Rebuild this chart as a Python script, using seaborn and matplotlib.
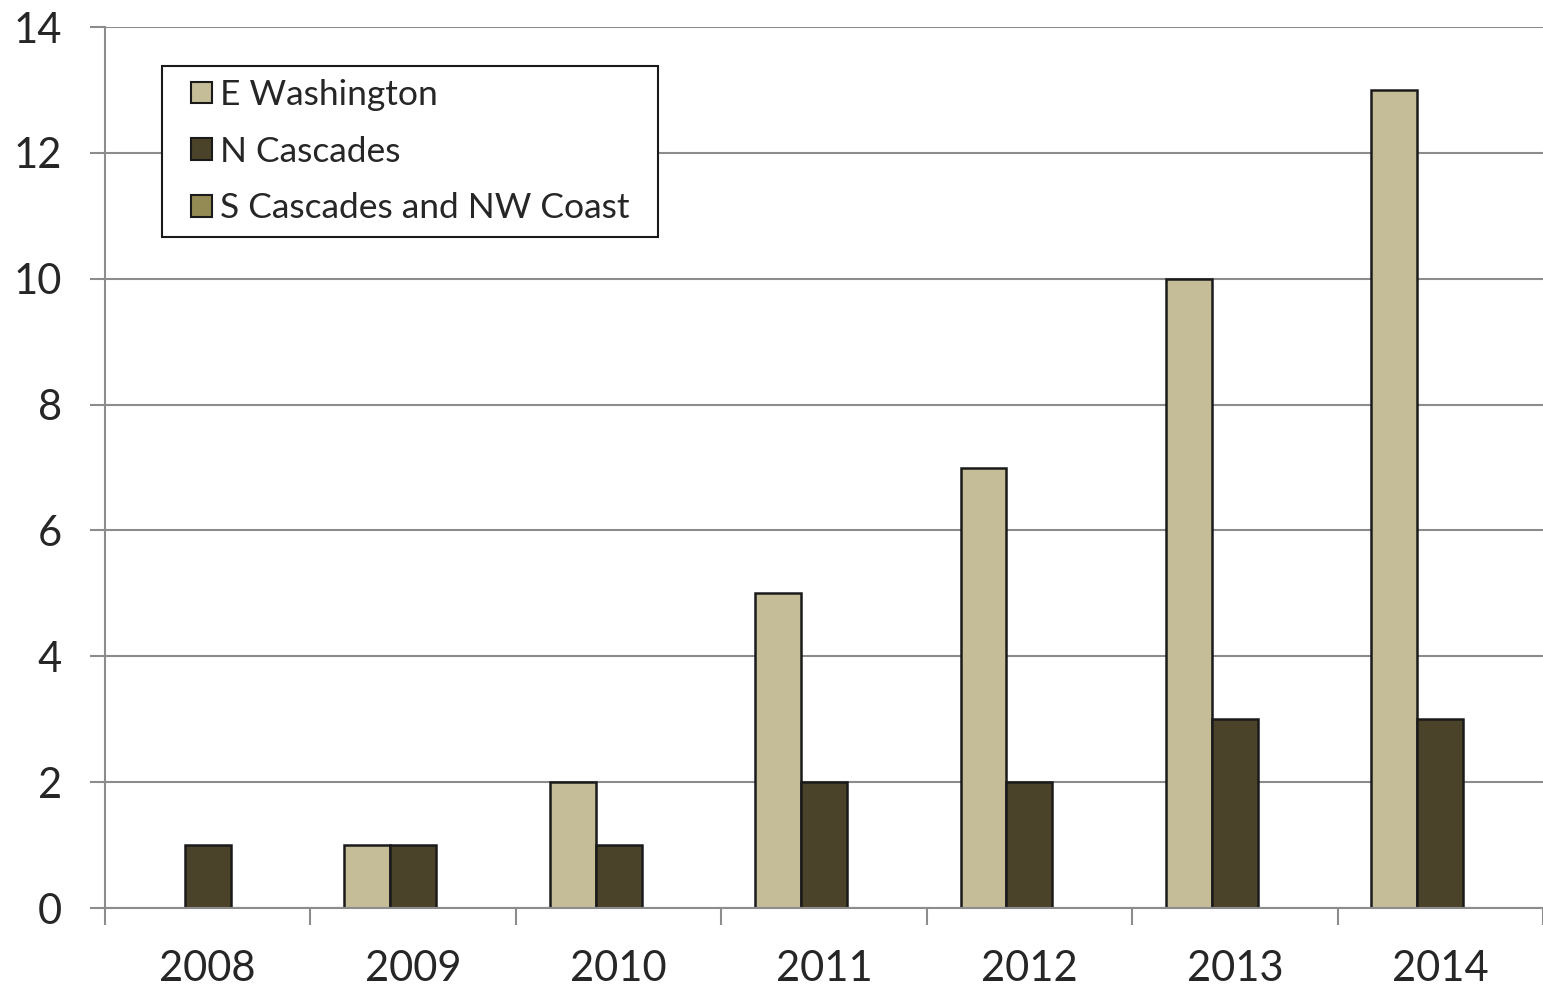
import matplotlib
matplotlib.use("Agg")
import matplotlib.pyplot as plt
from matplotlib.ticker import FixedLocator, MultipleLocator
from matplotlib.legend_handler import HandlerPatch
from matplotlib.patches import Rectangle
import seaborn as sns
import pandas as pd

years = ["2008", "2009", "2010", "2011", "2012", "2013", "2014"]
e_washington = [0, 1, 2, 5, 7, 10, 13]
n_cascades = [1, 1, 1, 2, 2, 3, 3]
s_cascades_nw_coast = [0, 0, 0, 0, 0, 0, 0]
series_names = ["E Washington", "N Cascades", "S Cascades and NW Coast"]
colors = ["#C4BD97", "#4B4329", "#948A54"]

df = pd.DataFrame({
    "year": years * 3,
    "value": e_washington + n_cascades + s_cascades_nw_coast,
    "region": [n for n in series_names for _ in years],
})

sns.set_style("white")
plt.rcParams["font.family"] = ["Lato", "DejaVu Sans"]

fig = plt.figure(figsize=(15.43, 9.9), dpi=100)
ax = fig.add_axes([105 / 1543, 1 - 908 / 990, 1 - 105 / 1543, (908 - 27) / 990])

sns.barplot(data=df, x="year", y="value", hue="region", hue_order=series_names,
            palette=colors, saturation=1, width=0.67, gap=0, edgecolor="#1a1a1a",
            linewidth=1.8, ax=ax, legend=True)

# hide outlines of empty bars so the baseline stays clean
for p in ax.patches:
    if p.get_height() == 0:
        p.set_linewidth(0)

ax.set_xlim(-0.5, 6.5)
ax.set_ylim(0, 14)
ax.yaxis.set_major_locator(MultipleLocator(2))
ax.grid(axis="y", color="#8c8c8c", linewidth=1.5)
ax.set_axisbelow(True)
ax.set_xlabel("")
ax.set_ylabel("")

for s in ["top", "right"]:
    ax.spines[s].set_visible(False)
for s in ["left", "bottom"]:
    ax.spines[s].set_color("#8c8c8c")
    ax.spines[s].set_linewidth(1.5)

ax.tick_params(axis="y", direction="out", length=11, width=1.5, color="#8c8c8c",
               labelsize=30, pad=20, left=True)
ax.tick_params(axis="x", which="major", length=0, labelsize=30, pad=30)
ax.xaxis.set_minor_locator(FixedLocator([i - 0.5 for i in range(len(years) + 1)]))
ax.tick_params(axis="x", which="minor", direction="out", length=12, width=1.5,
               color="#8c8c8c", bottom=True)


def right_square(legend, orig_handle, xdescent, ydescent, width, height, fontsize):
    # small square swatch pushed to the right end of the handle slot
    side = 0.6 * fontsize
    return Rectangle((-xdescent + width - side, -ydescent + (height - side) / 2),
                     side, side)


handles, labels = ax.get_legend_handles_labels()
leg = ax.legend(handles, labels, loc="upper left",
                bbox_to_anchor=(0.0396, 0.0, 0.345, 0.9557), mode="expand",
                fontsize=25.5, frameon=True, fancybox=False, edgecolor="#1a1a1a",
                framealpha=1, handlelength=1.05, handleheight=0.62, handletextpad=0.22,
                labelspacing=0.70, borderpad=0.36, borderaxespad=0,
                handler_map={h: HandlerPatch(patch_func=right_square) for h in handles})
leg.get_frame().set_linewidth(1.5)
for h, c in zip(leg.legend_handles, colors):
    h.set_facecolor(c)
    h.set_edgecolor("#1a1a1a")
    h.set_linewidth(1.5)

fig.savefig("out.png", dpi=100)
